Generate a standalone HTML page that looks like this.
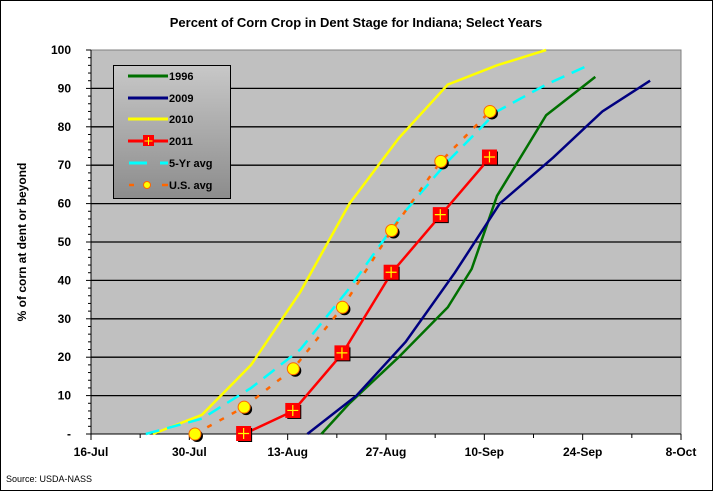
<!DOCTYPE html>
<html><head><meta charset="utf-8"><style>
body{margin:0;background:#fff;font-family:"Liberation Sans",Arial,sans-serif}
</style></head><body>
<svg width="713" height="491" xmlns="http://www.w3.org/2000/svg" font-family="Liberation Sans, Arial, sans-serif">
<rect x="0.5" y="0.5" width="712" height="490" fill="#fff" stroke="#000"/>
<text x="356" y="27" text-anchor="middle" font-size="13" font-weight="bold">Percent of Corn Crop in Dent Stage for Indiana; Select Years</text>
<rect x="91" y="50" width="590" height="384" fill="#c0c0c0" stroke="#808080"/>
<g id="grid"></g><g id="axes"></g><g id="series"></g>
<text transform="translate(26,242) rotate(-90)" text-anchor="middle" font-size="12" font-weight="bold">% of corn at dent or beyond</text>
<text x="6" y="482" font-size="9">Source: USDA-NASS</text>
<g>
<defs><linearGradient id="lg" x1="0" y1="0" x2="0" y2="1"><stop offset="0" stop-color="#c8c8c8"/><stop offset="1" stop-color="#8c8c8c"/></linearGradient></defs>
<rect x="113.5" y="65.5" width="117" height="133" fill="url(#lg)" stroke="#000"/>
<g font-size="11" font-weight="bold">
<line x1="128" y1="76" x2="168" y2="76" stroke="#007000" stroke-width="3"/><text x="169" y="80">1996</text>
<line x1="128" y1="98" x2="168" y2="98" stroke="#000080" stroke-width="3"/><text x="169" y="102">2009</text>
<line x1="128" y1="119" x2="168" y2="119" stroke="#ffff00" stroke-width="3"/><text x="169" y="123">2010</text>
<line x1="128" y1="141" x2="168" y2="141" stroke="#ff0000" stroke-width="3"/><rect x="143" y="135" width="11" height="11" fill="#f00"/><path d="M148.5 137v8M144.5 141h8" stroke="#ff0" stroke-width="1"/><text x="169" y="145">2011</text>
<path d="M129 163h18M160 163h8" stroke="#00ffff" stroke-width="3"/><text x="169" y="167">5-Yr avg</text>
<path d="M129 185h5M162 185h6" stroke="#ff6600" stroke-width="2.5"/><circle cx="147" cy="185" r="3.5" fill="#ff0" stroke="#f60"/><text x="169" y="189">U.S. avg</text>
</g></g>
</svg>
<script>
const yTicks=[0,10,20,30,40,50,60,70,80,90,100];
const yTickLabels=["-","10","20","30","40","50","60","70","80","90","100"];
const xTickDays=[0,14,28,42,56,70,84];
const xTickLabels=["16-Jul","30-Jul","13-Aug","27-Aug","10-Sep","24-Sep","8-Oct"];
const days1996=[32.8,36.8,43.8,50.8,54.2,57.8,64.8,71.8];
const vals1996=[0,8,20,33,43,62,83,93];
const days2009=[30.8,37.8,44.8,51.8,58.2,65.8,72.8,79.6];
const vals2009=[0,10,24,42,60,72,84,92];
const days2010=[8.8,15.8,22.8,29.8,36.8,43.8,50.8,57.8,64.8];
const vals2010=[0,5,18,37,60,77,91,96,100];
const days2011=[21.8,28.8,35.8,42.8,49.8,56.8];
const vals2011=[0,6,21,42,57,72];
const days5yr=[7.8,15.8,22.8,29.8,36.8,43.8,50.8,57.8,64.8,70.8];
const vals5yr=[0,4,12,22,38,56,71,84,91,96];
const daysUS=[14.8,21.8,28.8,35.8,42.8,49.8,56.8];
const valsUS=[0,7,17,33,53,71,84];
const NS="http://www.w3.org/2000/svg";
const X0=91,X1=681,Y0=434,Y1=50;
const xs=d=>X0+d*(X1-X0)/84, ys=v=>Y0-v*(Y0-Y1)/100;
function mk(t,a,p){const e=document.createElementNS(NS,t);for(const k in a)e.setAttribute(k,a[k]);p.appendChild(e);return e;}
const grid=document.getElementById('grid'),axes=document.getElementById('axes'),ser=document.getElementById('series');
yTicks.forEach((v,i)=>{
 if(v>0&&v<100){const l=mk('line',{x1:X0,x2:X1,y1:ys(v),y2:ys(v),stroke:'#000','stroke-width':1.3},grid);
 
 }
 const t=mk('text',{x:X0-20,y:ys(v)+4,'text-anchor':'end','font-size':12,'font-weight':'bold'},axes);t.textContent=yTickLabels[i];
 
 
 mk('line',{x1:X0-5,x2:X0,y1:ys(v),y2:ys(v),stroke:'#000'},axes);
});
for(let v=2;v<100;v+=2){if(v%10)mk('line',{x1:X0-3,x2:X0,y1:ys(v),y2:ys(v),stroke:'#000'},axes);}
mk('line',{x1:X0,x2:X1,y1:Y0,y2:Y0,stroke:'#000'},axes);
mk('line',{x1:X0,x2:X0,y1:Y0,y2:Y1,stroke:'#000'},axes);
xTickDays.forEach((d,i)=>{
 mk('line',{x1:xs(d),x2:xs(d),y1:Y0,y2:Y0+6,stroke:'#000'},axes);
 if(i<xTickDays.length-1)mk('line',{x1:xs(d+7),x2:xs(d+7),y1:Y0,y2:Y0+4,stroke:'#000'},axes);
 const t=mk('text',{x:xs(d),y:Y0+22,'text-anchor':'middle','font-size':12,'font-weight':'bold'},axes);t.textContent=xTickLabels[i];
 
 
});
function line(days,vals,color,name,dash,w){
 const p=mk('polyline',{points:days.map((d,i)=>xs(d)+','+ys(vals[i])).join(' '),fill:'none',stroke:color,'stroke-width':w||2.5,'stroke-dasharray':dash||'none'},ser);
 
 
}
line(days1996,vals1996,'#007000','series-1996');
line(days2009,vals2009,'#000080','series-2009');
line(days2010,vals2010,'#ffff00','series-2010');
line(days5yr,vals5yr,'#00ffff','series-5yr-avg','14,8');
line(daysUS,valsUS,'#ff6600','series-us-avg','5,9',2.5);
daysUS.forEach((d,i)=>{
 mk('circle',{cx:xs(d)+2,cy:ys(valsUS[i])+2,r:6,fill:'#000'},ser);
 const c=mk('circle',{cx:xs(d),cy:ys(valsUS[i]),r:6,fill:'#ff0',stroke:'#f60'},ser);
 
 
});
line(days2011,vals2011,'#ff0000','series-2011');
days2011.forEach((d,i)=>{
 const x=xs(d),y=ys(vals2011[i]);
 mk('rect',{x:x-6,y:y-6,width:14,height:14,fill:'#000'},ser);
 const r=mk('rect',{x:x-8,y:y-8,width:15,height:15,fill:'#f00'},ser);
 
 
 mk('path',{d:`M${x-0.5} ${y-6}v11M${x-6} ${y-0.5}h11`,stroke:'#ff0','stroke-width':1.2},ser);
});
</script>
</body></html>
